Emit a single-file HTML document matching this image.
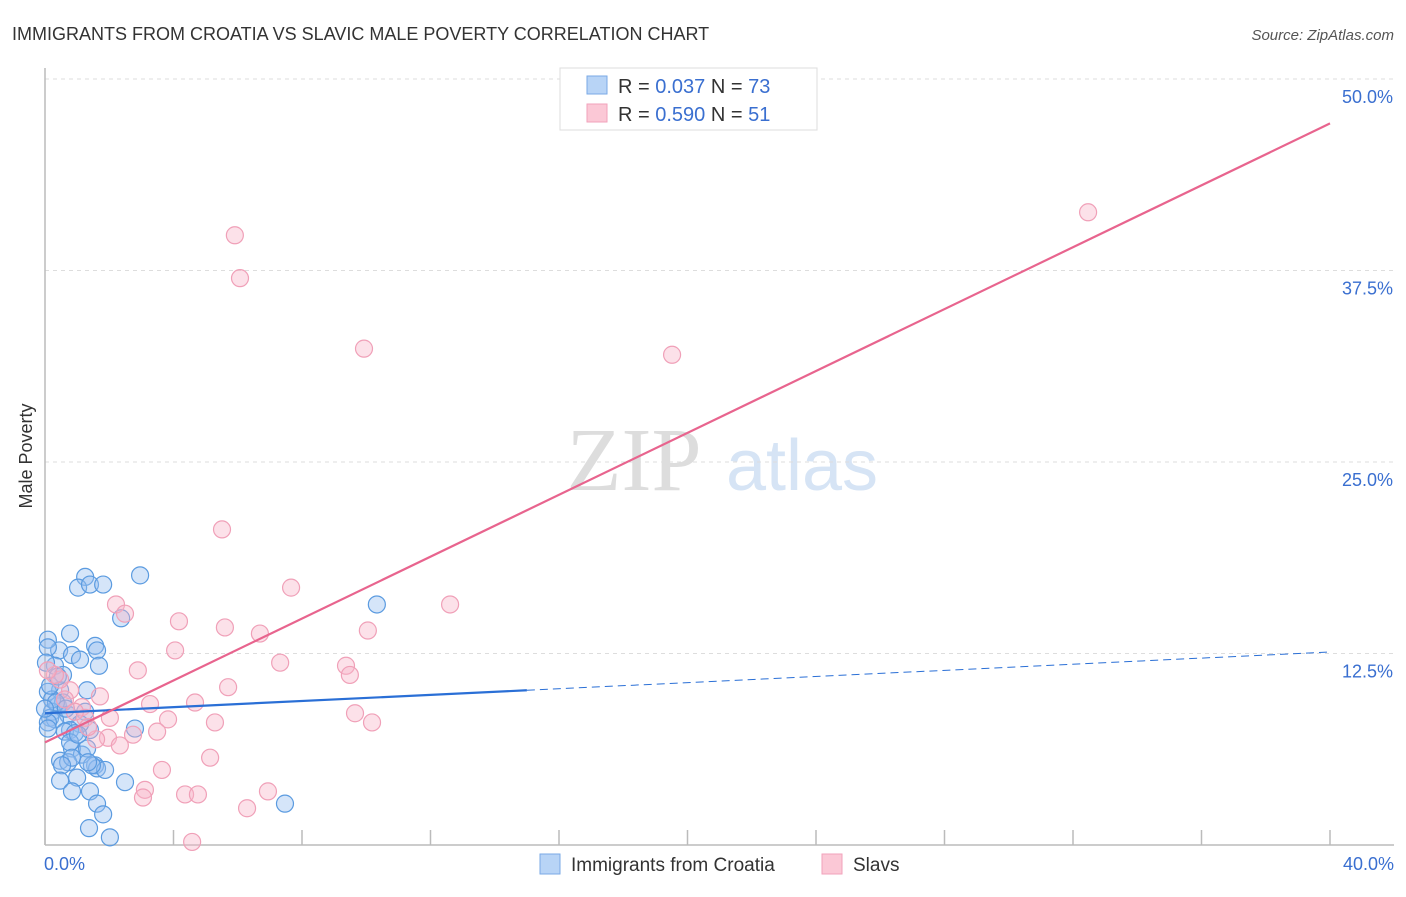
<!DOCTYPE html>
<html><head><meta charset="utf-8"><style>
body{margin:0;background:#fff;font-family:"Liberation Sans",sans-serif}
</style></head><body>
<svg width="1406" height="892" xmlns="http://www.w3.org/2000/svg" style="font-family:'Liberation Sans',sans-serif">
<text x="12" y="40" font-size="18" fill="#333">IMMIGRANTS FROM CROATIA VS SLAVIC MALE POVERTY CORRELATION CHART</text>
<text x="1394" y="40" font-size="15" fill="#555" font-style="italic" text-anchor="end">Source: ZipAtlas.com</text>
<text x="32" y="456" font-size="18" fill="#333" text-anchor="middle" transform="rotate(-90 32 456)">Male Poverty</text>
<g>
<text x="634" y="490" font-size="90" fill="#ddd" font-family="Liberation Serif" text-anchor="middle">ZIP</text>
<text x="802" y="490" font-size="72" fill="#d6e4f5" text-anchor="middle">atlas</text>
</g>
<g id="grid"></g>
<g id="axes"></g>
<g id="marks"></g>
<g>
<rect x="560" y="68" width="257" height="62" fill="#fff" stroke="#ddd"/>
<rect x="587" y="76" width="20" height="18" fill="#b8d4f6" stroke="#7aa9e6"/>
<rect x="587" y="104" width="20" height="18" fill="#fbc8d6" stroke="#f2a2bb"/>
<text x="618" y="93" font-size="20" fill="#333">R = <tspan fill="#3a6fd0">0.037</tspan>   N = <tspan fill="#3a6fd0">73</tspan></text>
<text x="618" y="121" font-size="20" fill="#333">R = <tspan fill="#3a6fd0">0.590</tspan>   N = <tspan fill="#3a6fd0"> 51</tspan></text>
</g>
<g>
<rect x="540" y="854" width="20" height="20" fill="#b8d4f6" stroke="#7aa9e6"/>
<text x="571" y="871" font-size="19" fill="#333">Immigrants from Croatia</text>
<rect x="822" y="854" width="20" height="20" fill="#fbc8d6" stroke="#f2a2bb"/>
<text x="853" y="871" font-size="19" fill="#333">Slavs</text>
</g>
</svg>
<script>
const blueX=[1.25,1.03,1.40,1.81,2.96,2.37,10.33,0.78,1.56,1.62,0.44,0.84,1.09,1.68,0.09,0.09,0.31,0.56,0.47,1.31,0.09,0.40,0.56,0.22,0.72,0.16,0.31,1.25,1.40,1.09,0.78,0.62,0.93,0.09,0.84,1.15,0.78,1.31,0.47,0.72,0.84,0.53,1.56,1.62,1.87,2.80,2.49,0.47,1.00,0.84,1.40,1.62,1.81,1.37,2.02,7.47,0.22,0.34,0.0,0.65,0.09,1.03,1.46,1.34,0.16,0.40,0.03];
const blueY=[17.5,16.8,17.0,17.0,17.6,14.8,15.7,13.8,13.0,12.7,12.7,12.4,12.1,11.7,13.4,12.9,11.7,11.1,10.1,10.1,10.0,9.1,9.3,8.7,8.5,8.3,8.2,8.7,7.5,7.9,7.5,7.4,7.3,8.0,6.3,5.9,6.7,6.3,5.5,5.4,5.7,5.2,5.2,5.0,4.9,7.6,4.1,4.2,4.4,3.5,3.5,2.7,2.0,1.1,0.5,2.7,9.5,9.3,8.9,8.9,7.6,7.2,5.2,5.4,10.4,11.0,11.9];
const pinkX=[5.91,6.07,9.93,19.52,32.47,5.51,7.66,12.61,2.21,2.49,4.17,5.60,6.69,10.05,4.05,7.32,9.37,9.49,2.89,5.70,1.71,0.78,4.67,3.27,9.65,10.18,1.15,1.25,2.02,5.29,3.83,3.49,1.96,2.74,2.33,1.59,5.14,3.64,3.11,3.05,4.36,4.76,6.94,6.29,4.58,0.47,0.62,0.93,0.31,0.09,1.34];
const pinkY=[39.8,37.0,32.4,32.0,41.3,20.6,16.8,15.7,15.7,15.1,14.6,14.2,13.8,14.0,12.7,11.9,11.7,11.1,11.4,10.3,9.7,10.1,9.3,9.2,8.6,8.0,9.0,8.3,8.3,8.0,8.2,7.4,7.0,7.2,6.5,6.9,5.7,4.9,3.6,3.1,3.3,3.3,3.5,2.4,0.2,10.8,9.5,8.7,11.1,11.4,7.7];
const yTicks=[12.5,25.0,37.5,50.0];
const yTickLabels=["12.5%","25.0%","37.5%","50.0%"];
const xTicks=[0,4,8,12,16,20,24,28,32,36,40];
const pinkTrend=[6.7,47.1];   // y at x=0 and x=40
const blueTrend=[8.6,12.6];   // y at x=0 and x=40
const blueSolidEnd=15;
const NS="http://www.w3.org/2000/svg";
const X0=45,X1=1330,Y0=845,YPER=15.32;
const sx=v=>X0+v/40*(X1-X0), sy=v=>Y0-v*YPER;
function mk(tag,attrs,parent){const e=document.createElementNS(NS,tag);for(const k in attrs)e.setAttribute(k,attrs[k]);parent.appendChild(e);return e;}
const grid=document.getElementById('grid'),axes=document.getElementById('axes'),marks=document.getElementById('marks');
yTicks.forEach((t,i)=>{
  const l=mk('line',{x1:X0,x2:1394,y1:sy(t),y2:sy(t),stroke:'#ddd','stroke-dasharray':'4,4'},grid);
  
  
  const tx=mk('text',{x:1393,y:sy(t)+24,'font-size':18,fill:'#3a6fd0','text-anchor':'end'},axes);
  tx.textContent=yTickLabels[i];
  
  
});
const ax=mk('line',{x1:X0,x2:X0,y1:68,y2:Y0,stroke:'#bbb','stroke-width':1.5},axes);


const bx=mk('line',{x1:X0,x2:1394,y1:Y0,y2:Y0,stroke:'#bbb','stroke-width':1.5},axes);


xTicks.forEach(t=>{const l=mk('line',{x1:sx(t),x2:sx(t),y1:830,y2:Y0,stroke:'#bbb','stroke-width':1.5},axes);
  
  });
let t0=mk('text',{x:44,y:870,'font-size':18,fill:'#3a6fd0'},axes);t0.textContent='0.0%';


let t1=mk('text',{x:1394,y:870,'font-size':18,fill:'#3a6fd0','text-anchor':'end'},axes);t1.textContent='40.0%';


blueX.forEach((x,i)=>{const c=mk('circle',{cx:sx(x),cy:sy(blueY[i]),r:8.5,fill:'rgba(150,190,240,0.4)',stroke:'#5b9be0','stroke-width':1.2},marks);
  
  });
pinkX.forEach((x,i)=>{const c=mk('circle',{cx:sx(x),cy:sy(pinkY[i]),r:8.5,fill:'rgba(248,180,200,0.4)',stroke:'#f0a0b8','stroke-width':1.2},marks);
  
  });
const by=x=>blueTrend[0]+(blueTrend[1]-blueTrend[0])*x/40;
const b1=mk('line',{x1:sx(0),y1:sy(by(0)),x2:sx(blueSolidEnd),y2:sy(by(blueSolidEnd)),stroke:'#2a6fd6','stroke-width':2.2},marks);


const b2=mk('line',{x1:sx(blueSolidEnd),y1:sy(by(blueSolidEnd)),x2:sx(40),y2:sy(by(40)),stroke:'#2a6fd6','stroke-width':1,'stroke-dasharray':'8,5'},marks);


const p=mk('line',{x1:sx(0),y1:sy(pinkTrend[0]),x2:sx(40),y2:sy(pinkTrend[1]),stroke:'#e8648e','stroke-width':2.2},marks);


</script>
</body></html>
